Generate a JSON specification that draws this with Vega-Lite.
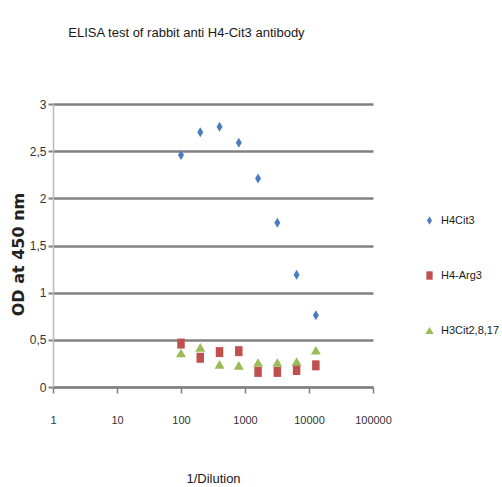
{
  "$schema": "https://vega.github.io/schema/vega-lite/v6.json",
  "width": 320,
  "height": 283,
  "autosize": {"type": "none"},
  "padding": {"left": 53, "top": 104, "right": 129, "bottom": 100},
  "background": "white",
  "title": {
    "text": "ELISA test of rabbit anti H4-Cit3 antibody",
    "anchor": "start",
    "dx": 58,
    "offset": 58,
    "font": "Liberation Sans",
    "fontSize": 13,
    "fontWeight": "normal",
    "color": "#1a1a1a"
  },
  "data": {
    "values": [
      {"dilution": 100, "od": 2.46, "series": "H4Cit3"},
      {"dilution": 200, "od": 2.70, "series": "H4Cit3"},
      {"dilution": 400, "od": 2.76, "series": "H4Cit3"},
      {"dilution": 800, "od": 2.59, "series": "H4Cit3"},
      {"dilution": 1600, "od": 2.21, "series": "H4Cit3"},
      {"dilution": 3200, "od": 1.74, "series": "H4Cit3"},
      {"dilution": 6400, "od": 1.19, "series": "H4Cit3"},
      {"dilution": 12800, "od": 0.76, "series": "H4Cit3"},
      {"dilution": 100, "od": 0.46, "series": "H4-Arg3"},
      {"dilution": 200, "od": 0.31, "series": "H4-Arg3"},
      {"dilution": 400, "od": 0.37, "series": "H4-Arg3"},
      {"dilution": 800, "od": 0.38, "series": "H4-Arg3"},
      {"dilution": 1600, "od": 0.16, "series": "H4-Arg3"},
      {"dilution": 3200, "od": 0.16, "series": "H4-Arg3"},
      {"dilution": 6400, "od": 0.18, "series": "H4-Arg3"},
      {"dilution": 12800, "od": 0.23, "series": "H4-Arg3"},
      {"dilution": 100, "od": 0.36, "series": "H3Cit2,8,17"},
      {"dilution": 200, "od": 0.42, "series": "H3Cit2,8,17"},
      {"dilution": 400, "od": 0.24, "series": "H3Cit2,8,17"},
      {"dilution": 800, "od": 0.23, "series": "H3Cit2,8,17"},
      {"dilution": 1600, "od": 0.26, "series": "H3Cit2,8,17"},
      {"dilution": 3200, "od": 0.26, "series": "H3Cit2,8,17"},
      {"dilution": 6400, "od": 0.27, "series": "H3Cit2,8,17"},
      {"dilution": 12800, "od": 0.39, "series": "H3Cit2,8,17"}
    ]
  },
  "mark": {"type": "point", "filled": true, "opacity": 1, "size": 100},
  "encoding": {
    "x": {
      "field": "dilution",
      "type": "quantitative",
      "scale": {"type": "log", "domain": [1, 100000]},
      "axis": {
        "values": [1, 10, 100, 1000, 10000, 100000],
        "format": "d",
        "grid": false,
        "labelOverlap": false,
        "labelFlush": false,
        "domainColor": "#808080",
        "domainWidth": 2,
        "tickColor": "#808080",
        "tickSize": 6,
        "tickWidth": 1.5,
        "labelPadding": 21,
        "labelFont": "Liberation Sans",
        "labelFontSize": 11,
        "labelColor": "#333333",
        "title": "1/Dilution",
        "titleFont": "Liberation Sans",
        "titleFontSize": 13,
        "titleFontWeight": "normal",
        "titleColor": "#1a1a1a",
        "titlePadding": 47
      }
    },
    "y": {
      "field": "od",
      "type": "quantitative",
      "scale": {"domain": [0, 3], "nice": false, "zero": true},
      "axis": {
        "values": [0, 0.5, 1, 1.5, 2, 2.5, 3],
        "labelExpr": "replace(format(datum.value, '~g'), '.', ',')",
        "grid": true,
        "gridColor": "#808080",
        "gridWidth": 2.3,
        "domainColor": "#bbbbbb",
        "domainWidth": 1.5,
        "tickColor": "#808080",
        "tickSize": 5,
        "tickWidth": 2,
        "labelPadding": 2,
        "labelFont": "Liberation Sans",
        "labelFontSize": 12,
        "labelColor": "#333333",
        "title": "OD at 450 nm",
        "titleFont": "DejaVu Sans",
        "titleFontSize": 16,
        "titleFontWeight": "bold",
        "titleColor": "#222222",
        "titlePadding": 3,
        "titleY": 150
      }
    },
    "color": {
      "field": "series",
      "type": "nominal",
      "scale": {
        "domain": ["H4Cit3", "H4-Arg3", "H3Cit2,8,17"],
        "range": ["#4A7DBF", "#C0504D", "#9BBB59"]
      },
      "legend": {
        "orient": "none",
        "legendX": 371,
        "legendY": 111,
        "title": null,
        "labelFont": "Liberation Sans",
        "labelFontSize": 11,
        "labelColor": "#1a1a1a",
        "rowPadding": 40,
        "symbolSize": 70,
        "labelOffset": 6,
        "symbolOpacity": 1
      }
    },
    "shape": {
      "field": "series",
      "type": "nominal",
      "scale": {
        "domain": ["H4Cit3", "H4-Arg3", "H3Cit2,8,17"],
        "range": ["M0,-1L0.6,0L0,1L-0.6,0Z", "M-0.75,-1L0.75,-1L0.75,1L-0.75,1Z", "triangle-up"]
      },
      "legend": {
        "orient": "none",
        "legendX": 371,
        "legendY": 111,
        "title": null,
        "labelFont": "Liberation Sans",
        "labelFontSize": 11,
        "labelColor": "#1a1a1a",
        "rowPadding": 40,
        "symbolSize": 70,
        "labelOffset": 6,
        "symbolOpacity": 1
      }
    }
  },
  "config": {"view": {"stroke": null}}
}
